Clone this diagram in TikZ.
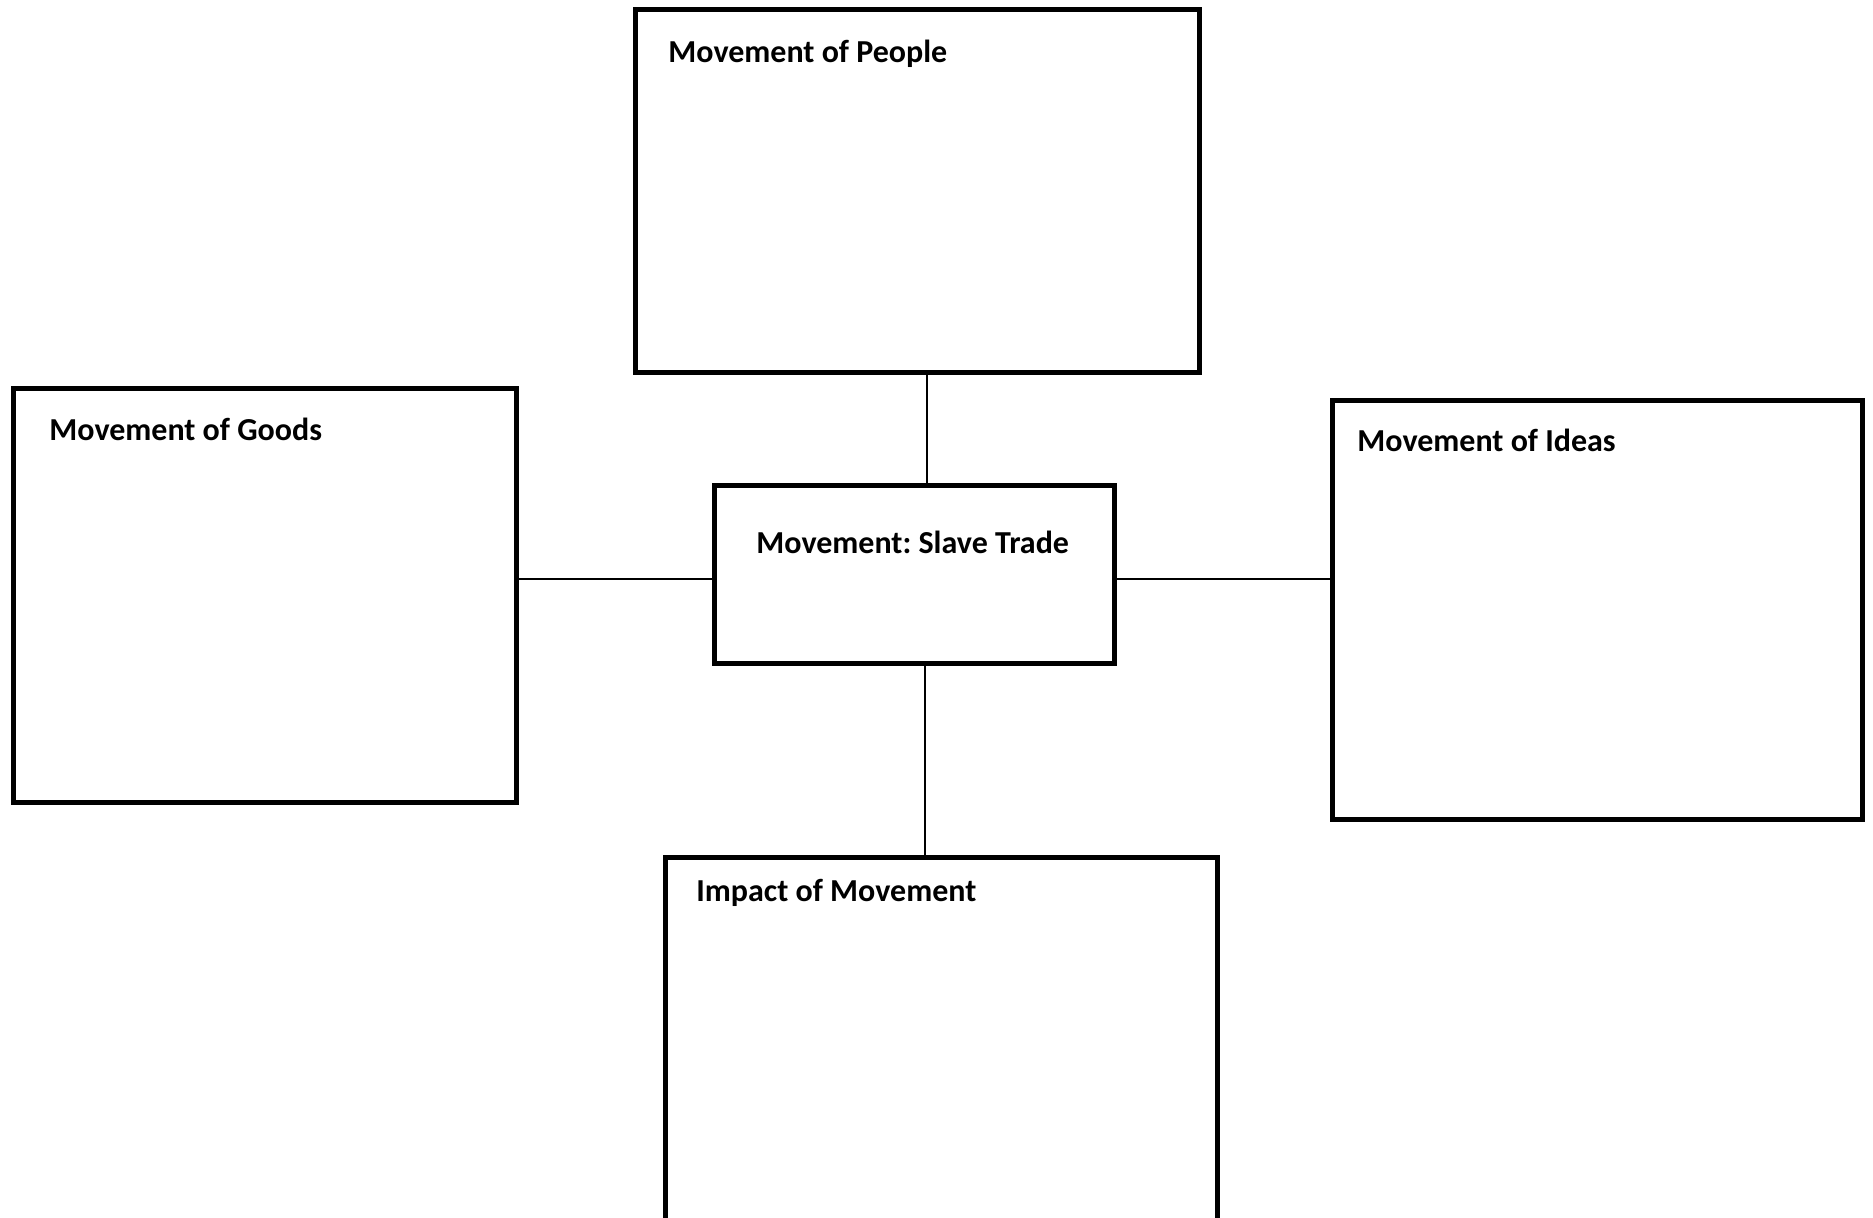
\documentclass[tikz,border=0pt]{standalone}
\usepackage{fontspec}
\setmainfont{Carlito}
\frenchspacing
\begin{document}
\begin{tikzpicture}[x=0.5pt,y=-0.5pt,
  box/.style={draw=black, line width=2.4pt, fill=white, inner sep=0pt, anchor=north west},
  conn/.style={draw=black, line width=1pt},
  lbl/.style={font=\bfseries\fontsize{16pt}{19pt}\selectfont, anchor=base west, inner sep=0pt}]
\useasboundingbox[fill=white] (0,0) rectangle (1873,1217);
% boxes
\node[box, minimum width=282pt, minimum height=181.5pt] (people) at (633,7) {};
\node[box, minimum width=251.5pt, minimum height=207pt] (goods) at (11,386) {};
\node[box, minimum width=265pt, minimum height=209.5pt] (ideas) at (1330,398) {};
\node[box, minimum width=200pt, minimum height=89pt] (slave) at (712,483) {};
\node[box, minimum width=276pt, minimum height=182pt] (impact) at (663,855) {};
% labels
\node[lbl] (tpeople) at (668,62) {Movement of People};
\node[lbl] (tgoods) at (49,440) {Movement of Goods};
\node[lbl] (tideas) at (1357,451) {Movement of Ideas};
\node[lbl] (tslave) at (756,553) {Movement: Slave Trade};
\node[lbl] (timpact) at (696,901) {Impact of Movement};
% connectors
\coordinate (cx1) at (927,0);
\coordinate (cx2) at (924.5,0);
\coordinate (cy) at (0,579);
\draw[conn] (cx1 |- people.south) -- (cx1 |- slave.north);
\draw[conn] (cx2 |- slave.south) -- (cx2 |- impact.north);
\draw[conn] (goods.east |- cy) -- (slave.west |- cy);
\draw[conn] (slave.east |- cy) -- (ideas.west |- cy);
\end{tikzpicture}
\end{document}
